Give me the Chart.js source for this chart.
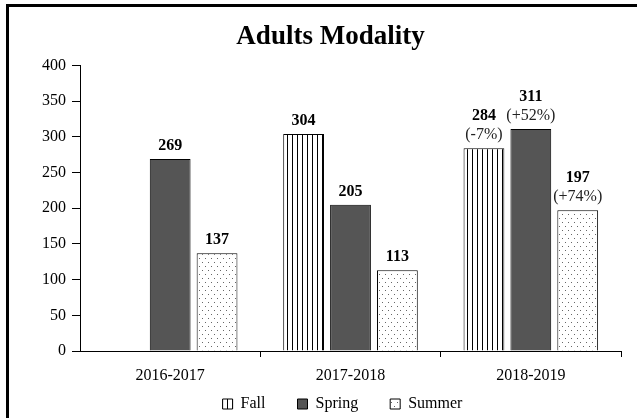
<!DOCTYPE html>
<html>
<head>
<meta charset="utf-8">
<script src="https://cdn.jsdelivr.net/npm/chart.js@4"></script>
<style>
  html, body { margin: 0; padding: 0; background: #fff; }
  #wrap { position: relative; width: 637px; height: 418px; overflow: hidden; }
  #frame {
    position: absolute; left: 6px; top: 4px; width: 700px; height: 500px;
    border-left: 3px solid #000; border-top: 3px solid #000; pointer-events: none;
  }
  canvas { position: absolute; left: 0; top: 0; }
</style>
</head>
<body>
<div id="wrap">
  <canvas id="adultsChart" width="637" height="418"></canvas>
  <div id="frame"></div>
</div>
<script>
/* ---------------- data ---------------- */
const years = ["2016-2017", "2017-2018", "2018-2019"];
const fallValues = [null, 304, 284];
const springValues = [269, 205, 311];
const summerValues = [137, 113, 197];
// change vs previous year, shown under the value
const fallChange = [null, null, "(-7%)"];
const springChange = [null, null, "(+52%)"];
const summerChange = [null, null, "(+74%)"];

const serif = "'Liberation Serif', 'Times New Roman', serif";
const legendPad = 32;

/* ---------------- patterns ---------------- */
function stripePattern() {
  const c = document.createElement("canvas");
  c.width = 5; c.height = 5;
  const g = c.getContext("2d");
  g.fillStyle = "#fff";
  g.fillRect(0, 0, 5, 5);
  g.fillStyle = "#000";
  g.fillRect(2, 0, 1, 5);
  return g.createPattern(c, "repeat");
}

function dotPattern() {
  const c = document.createElement("canvas");
  c.width = 6; c.height = 8;
  const g = c.getContext("2d");
  g.fillStyle = "#fff";
  g.fillRect(0, 0, 6, 8);
  g.fillStyle = "#666";
  g.fillRect(1, 2, 1, 1);
  g.fillRect(4, 6, 1, 1);
  return g.createPattern(c, "repeat");
}

/* ---------------- value labels ---------------- */
const valueLabels = {
  id: "valueLabels",
  afterDatasetsDraw(chart) {
    const ctx = chart.ctx;
    const changes = [fallChange, springChange, summerChange];
    ctx.save();
    ctx.textAlign = "center";
    ctx.textBaseline = "alphabetic";
    chart.data.datasets.forEach((ds, di) => {
      const meta = chart.getDatasetMeta(di);
      meta.data.forEach((bar, i) => {
        const v = ds.data[i];
        if (v === null || v === undefined) return;
        let base = bar.y - 9;
        const ch = changes[di][i];
        if (ch) {
          ctx.font = "16px " + serif;
          ctx.fillStyle = "#222";
          ctx.fillText(ch, bar.x, base);
          base -= 19;
        }
        ctx.font = "bold 16px " + serif;
        ctx.fillStyle = "#000";
        ctx.fillText(String(v), bar.x, base);
      });
    });
    ctx.restore();
  }
};

// legend is given a short box (maxHeight) so the plot can grow,
// then its top is pulled up so items still land at the bottom
const legendShift = {
  id: "legendShift",
  afterLayout(chart) {
    chart.legend.top -= legendPad;
    chart.legend.left += 12;
    chart.legend.right += 12;
  }
};

/* ---------------- chart ---------------- */
const barStyle = { borderColor: "#000", borderWidth: 1, barPercentage: 0.87, categoryPercentage: 0.78 };

new Chart(document.getElementById("adultsChart"), {
  type: "bar",
  data: {
    labels: years,
    datasets: [
      { label: "Fall", data: fallValues, backgroundColor: stripePattern(), ...barStyle },
      { label: "Spring", data: springValues, backgroundColor: "#555555", ...barStyle },
      { label: "Summer", data: summerValues, backgroundColor: dotPattern(), ...barStyle }
    ]
  },
  options: {
    responsive: false,
    animation: false,
    layout: { padding: { left: 40, right: 16, top: 21, bottom: -4 } },
    plugins: {
      title: {
        display: true,
        text: "Adults Modality",
        color: "#000",
        font: { family: serif, size: 27, weight: "bold" },
        padding: { top: 0, bottom: 12 }
      },
      legend: {
        position: "bottom",
        maxHeight: 26,
        labels: {
          color: "#000",
          font: { family: serif, size: 16 },
          boxWidth: 10,
          boxHeight: 10,
          padding: legendPad
        }
      },
      tooltip: { enabled: false }
    },
    scales: {
      x: {
        afterFit: (s) => { s.height = 45; },
        grid: {
          drawOnChartArea: false,
          tickLength: 6,
          tickColor: (c) => (c.index === 0 || c.index >= years.length) ? "rgba(0,0,0,0)" : "#000"
        },
        border: { color: "#000", width: 1 },
        ticks: { color: "#000", font: { family: serif, size: 16 }, padding: 9 }
      },
      y: {
        min: 0,
        max: 400,
        afterFit: (s) => { s.width = 40; },
        grid: { drawOnChartArea: false, tickLength: 8, tickColor: "#000" },
        border: { color: "#000", width: 1 },
        ticks: { stepSize: 50, color: "#000", font: { family: serif, size: 16 }, padding: 6 }
      }
    }
  },
  plugins: [valueLabels, legendShift]
});
</script>
</body>
</html>
